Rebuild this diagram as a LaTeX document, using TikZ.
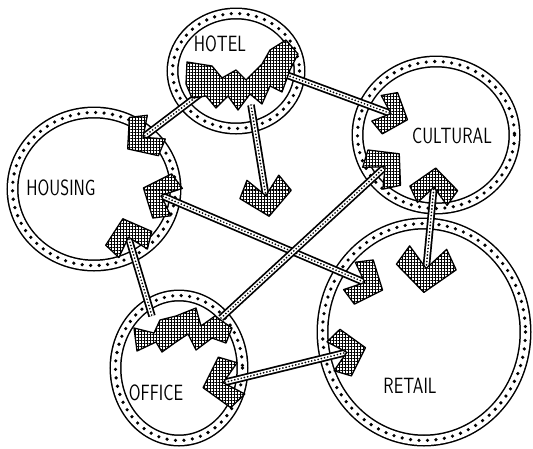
\documentclass[tikz,border=0pt]{standalone}
\usetikzlibrary{shapes.geometric, patterns.meta, calc}

% arrowhead chevron: #1 = end it sits on, #2 = other end of the link, #3 = size
\newcommand{\chev}[3]{%
  \pgfmathanglebetweenpoints{\pgfpointanchor{#2}{center}}{\pgfpointanchor{#1}{center}}%
  \let\chevang\pgfmathresult
  \filldraw[chevron, shift={(#1)}, rotate=\chevang, scale=#3]
    (0.75,0) -- (-0.1,1) -- (-0.75,0.62) -- (-0.05,0) -- (-0.75,-0.62) -- (-0.1,-1) -- cycle;}

\begin{document}
\begin{tikzpicture}[
    x=1pt, y=-1pt,
    zone/.style={ellipse, draw, line width=1.5pt, double, double distance=9pt, inner sep=0pt},
    ringdots/.style={line width=3.6pt, dash pattern=on 0pt off 8.5pt, line cap=round},
    link/.style={line width=4pt, white, preaction={draw, black, line width=7.5pt},
      postaction={draw, black, line width=1.9pt, dash pattern=on 0pt off 3.3pt, line cap=round}},
    chevron/.style={draw, line width=1.3pt, line join=round, preaction={fill=white},
      pattern={Hatch[angle=0, distance=3pt, line width=1pt]}},
    tag/.style={font=\sffamily\fontsize{17}{17}\selectfont, yscale=1.3}
  ]
    \useasboundingbox (0,0) rectangle (533,448);

    % The five zones: double ring with dots in between
    \foreach \n/\cx/\cy/\rx/\ry in {hotel/236/71/63.5/57.5, cultural/436/135/78.5/73.5,
        housing/94/189/81.5/76.5, office/179/368/63.5/72.5, retail/424/332/101.5/108.5} {
      \node[zone, minimum width=2*\rx, minimum height=2*\ry] (\n) at (\cx,\cy) {};
      \draw[ringdots] (\n.center) ellipse ({\rx} and {\ry});
    }

    % Labels
    \node[tag] (hotel-label) at (220,44) {HOTEL};
    \node[tag] (cultural-label) at (452,136) {CULTURAL};
    \node[tag] (housing-label) at (61,188) {HOUSING};
    \node[tag] (office-label) at (156,393) {OFFICE};
    \node[tag] (retail-label) at (410,386) {RETAIL};

    % Link ends
    \coordinate (ho-cu) at (284,74);
    \coordinate (cu-ho) at (392,114);
    \coordinate (ho-hs) at (200,94);
    \coordinate (hs-ho) at (142,138);
    \coordinate (ho-fr) at (251,105);
    \coordinate (fr-ho) at (266,197);
    \coordinate (hs-re) at (160,195);
    \coordinate (re-hs) at (366,283);
    \coordinate (hs-of) at (128,236);
    \coordinate (of-hs) at (152,316);
    \coordinate (of-cu) at (221,318);
    \coordinate (cu-of) at (386,166);
    \coordinate (of-re) at (222,383);
    \coordinate (re-of) at (348,352);
    \coordinate (cu-re) at (434,186);
    \coordinate (re-cu) at (426,270);

    % Links
    \foreach \a/\b in {ho-cu/cu-ho, ho-hs/hs-ho, ho-fr/fr-ho, hs-re/re-hs,
        hs-of/of-hs, of-cu/cu-of, of-re/re-of, cu-re/re-cu} {
      \draw[link] (\a) -- (\b);
    }

    % Zigzag heads in hotel and office
    \filldraw[chevron] (187,62) -- (212,66) -- (222,78) -- (236,70) -- (246,80) -- (262,64)
      -- (270,50) -- (286,40) -- (298,54) -- (290,70) -- (282,92) -- (270,86) -- (262,104)
      -- (250,94) -- (238,110) -- (228,96) -- (216,108) -- (206,96) -- (192,98) -- (186,84) -- cycle;
    \filldraw[chevron] (134,328) -- (154,333) -- (160,320) -- (176,316) -- (196,308) -- (201,326)
      -- (215,316) -- (232,328) -- (226,343) -- (212,338) -- (196,350) -- (188,334) -- (176,342)
      -- (162,352) -- (156,342) -- (137,351) -- cycle;

    % Arrowheads
    \foreach \a/\b/\s in {cu-ho/ho-cu/22, hs-ho/ho-hs/24, fr-ho/ho-fr/26, hs-re/re-hs/24,
        re-hs/hs-re/24, hs-of/of-hs/24, cu-of/of-cu/24, of-re/re-of/26, re-of/of-re/24,
        cu-re/re-cu/24, re-cu/cu-re/30} {
      \chev{\a}{\b}{\s}
    }

  \end{tikzpicture}
\end{document}
